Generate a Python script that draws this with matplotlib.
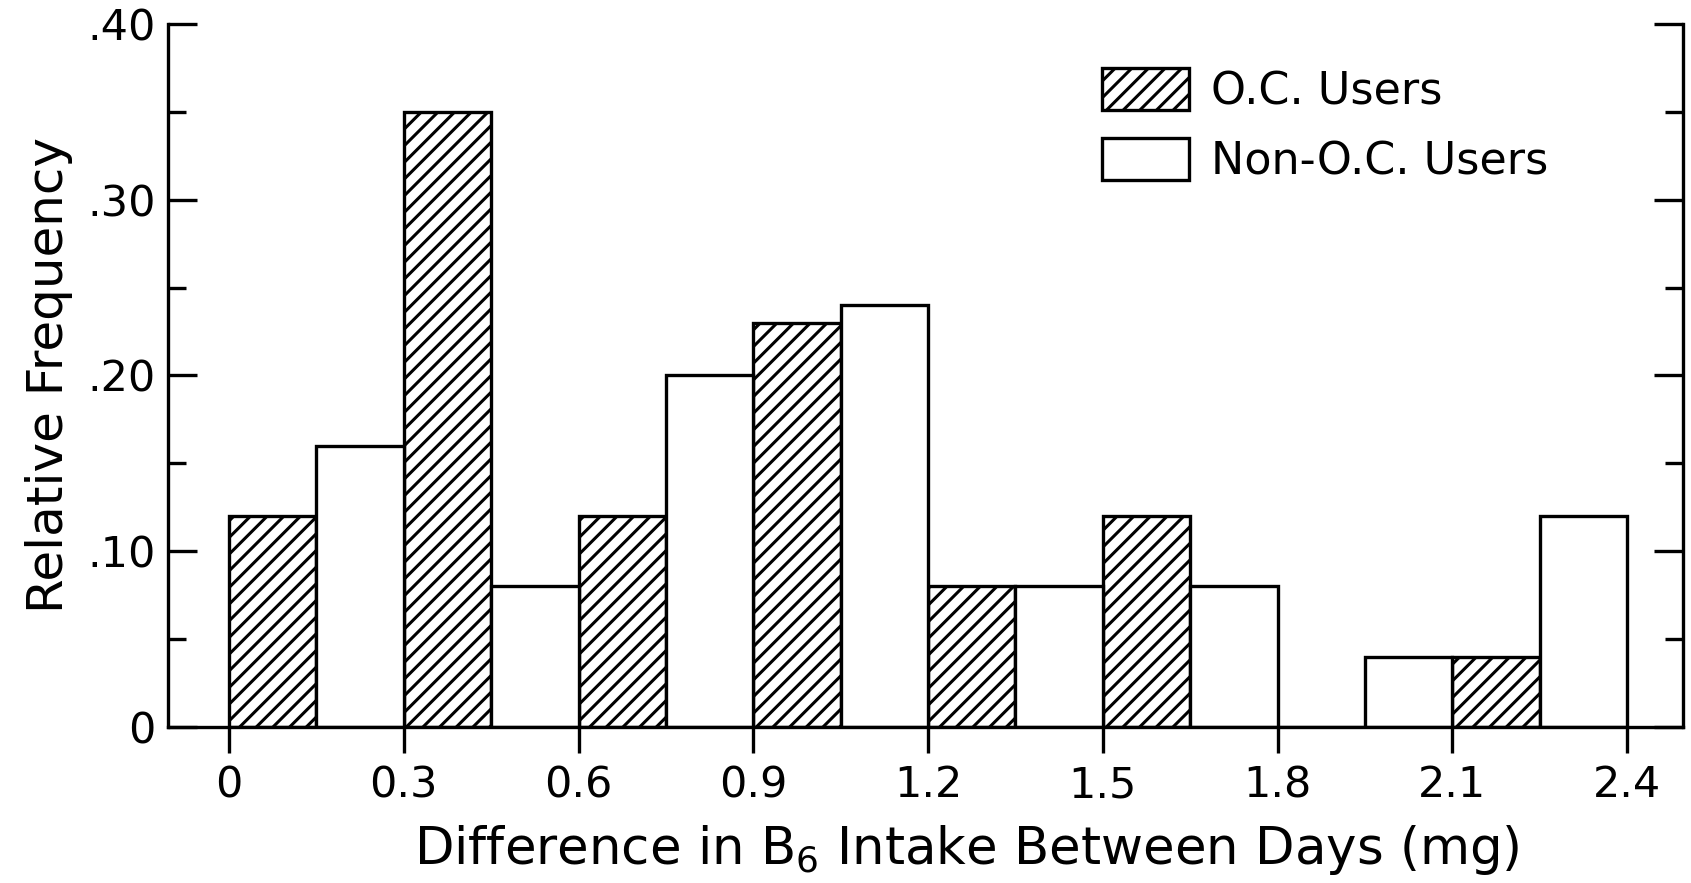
import numpy as np
import matplotlib
matplotlib.use('Agg')
import matplotlib.pyplot as plt
from matplotlib.patches import Patch

# bins of 0.15 mg, O.C. and non-O.C. alternate
bin_width = 0.15
oc_left = [0.0, 0.3, 0.6, 0.9, 1.2, 1.5, 1.8, 2.1]
oc_freq = [0.12, 0.35, 0.12, 0.23, 0.08, 0.12, 0.0, 0.04]
non_left = [0.15, 0.45, 0.75, 1.05, 1.35, 1.65, 1.95, 2.25]
non_freq = [0.16, 0.08, 0.20, 0.24, 0.08, 0.08, 0.04, 0.12]

x_ticks = [0, 0.3, 0.6, 0.9, 1.2, 1.5, 1.8, 2.1, 2.4]
x_ticklabels = ['0', '0.3', '0.6', '0.9', '1.2', '1.5', '1.8', '2.1', '2.4']
y_ticks = [0, 0.1, 0.2, 0.3, 0.4]
y_ticklabels = ['0', '.10', '.20', '.30', '.40']

plt.rcParams['font.family'] = ['DejaVu Sans']
plt.rcParams['hatch.linewidth'] = 2.2
plt.rcParams['hatch.color'] = 'black'

fig = plt.figure(figsize=(16.91, 8.83), dpi=100)
ax = fig.add_axes([0.0993, 0.1767, 0.8960, 0.7961])

ax.bar(oc_left, oc_freq, width=bin_width, align='edge', color='white',
       edgecolor='black', linewidth=2.4, hatch='//')
ax.bar(non_left, non_freq, width=bin_width, align='edge', color='white',
       edgecolor='black', linewidth=2.4)

ax.set_xlim(-0.105, 2.496)
ax.set_ylim(0, 0.40)

ax.spines['top'].set_visible(False)
for s in ['left', 'right', 'bottom']:
  ax.spines[s].set_linewidth(2.4)

ax.set_xticks(x_ticks)
ax.set_xticklabels(x_ticklabels)
ax.set_yticks(y_ticks)
ax.set_yticklabels(y_ticklabels)
ax.set_yticks(np.arange(0.05, 0.40, 0.1), minor=True)

ax.tick_params(axis='x', direction='out', length=19, width=2.4, pad=8, labelsize=31)
ax.tick_params(axis='y', which='major', direction='in', length=21, width=2.4,
               right=True, pad=9, labelsize=31)
ax.tick_params(axis='y', which='minor', direction='in', length=13, width=2.4, right=True)

ax.set_xlabel(r'Difference in B$_6$ Intake Between Days (mg)', fontsize=37)
ax.xaxis.set_label_coords(0.527, -0.136)
ax.set_ylabel('Relative Frequency', fontsize=36, labelpad=10)

handles = [Patch(facecolor='white', edgecolor='black', linewidth=2.4, hatch='//'),
           Patch(facecolor='white', edgecolor='black', linewidth=2.4)]
ax.legend(handles, ['O.C. Users', 'Non-O.C. Users'], loc='upper left',
          bbox_to_anchor=(0.590, 0.994), frameon=False, fontsize=32,
          handlelength=1.96, handleheight=1.08, handletextpad=0.5, labelspacing=0.55)

fig.savefig('out.png', dpi=100)
